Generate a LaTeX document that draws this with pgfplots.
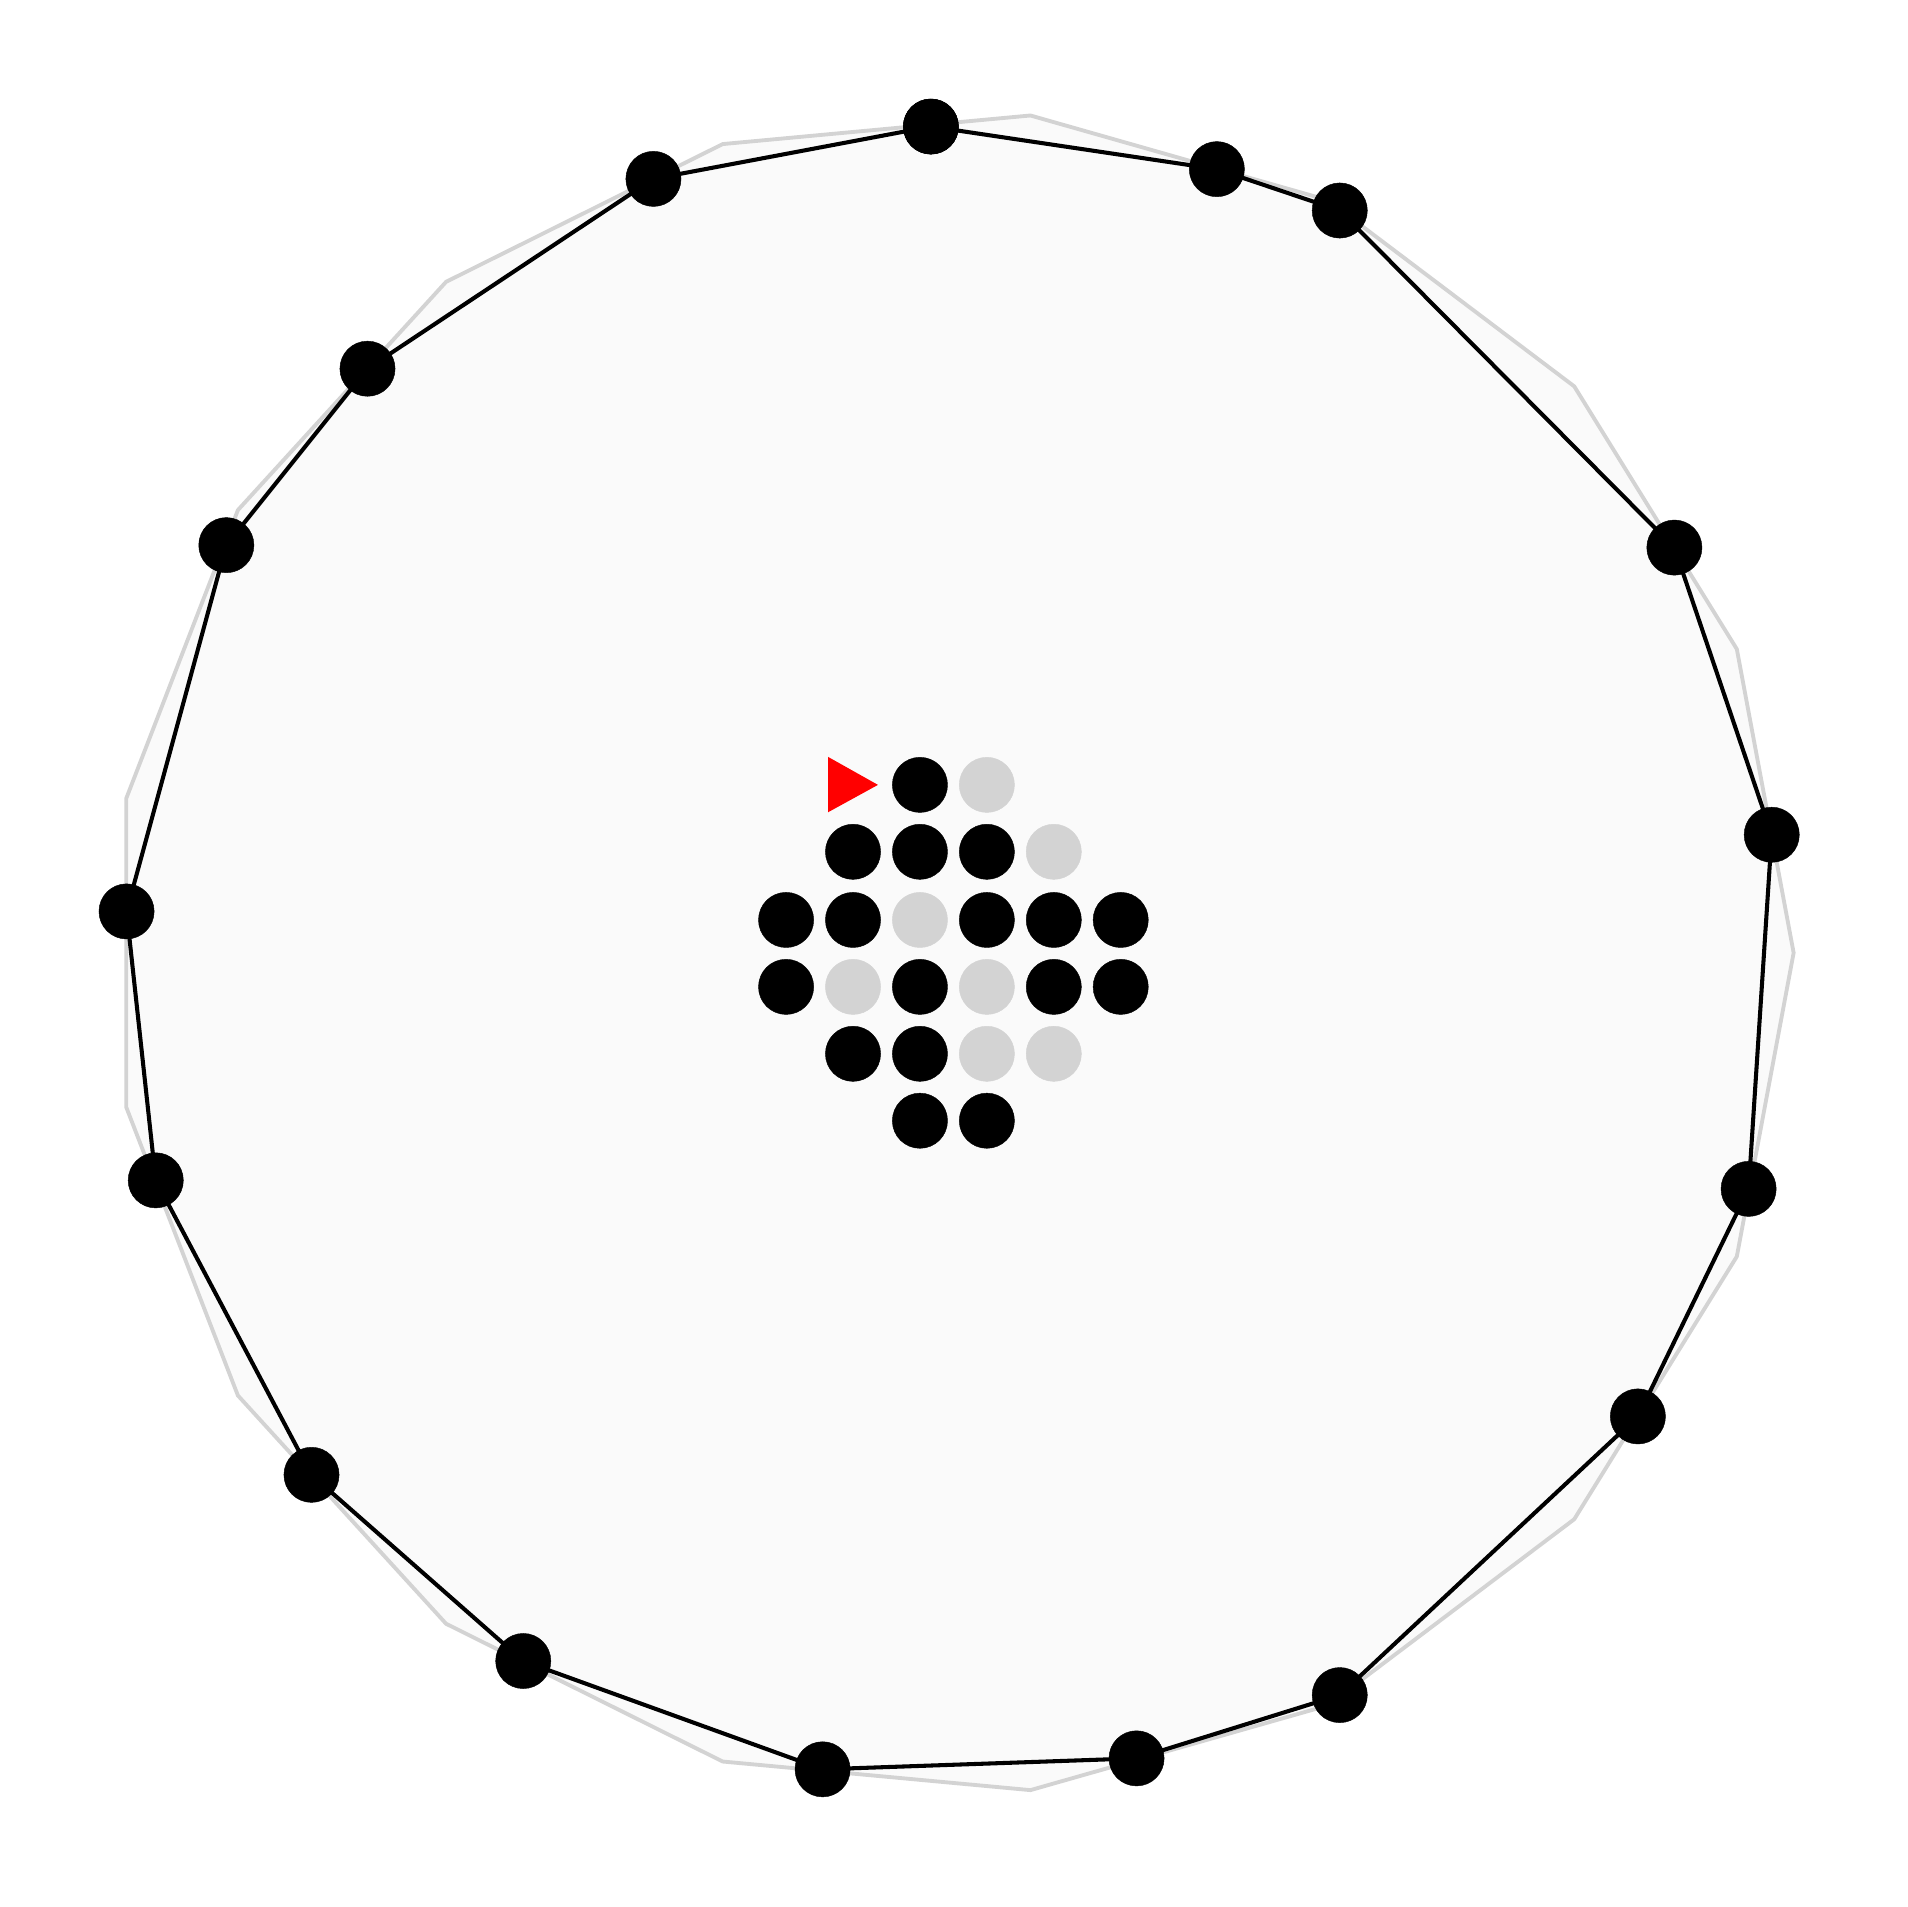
\documentclass[border=0pt]{standalone}
\usepackage{pgfplots}
\pgfplotsset{compat=1.18}
\definecolor{polyfill}{HTML}{FAFAFA}
\definecolor{lgray}{HTML}{D3D3D3}
\begin{document}
\begin{tikzpicture}
\begin{axis}[
  scale only axis, width=15.68cm, height=15.67cm,
  xmin=0, xmax=1568, ymin=0, ymax=1567, y dir=reverse,
  hide axis, clip=false]
\path (axis cs:0,0) rectangle (axis cs:1568,1567);
% gray reference polygon
\addplot[draw=lgray, line width=0.9pt, fill=polyfill] coordinates {
(1474,783) (1427.3,533.4) (1293.7,317.5) (1091.0,164.4) (846.8,94.9)
(593.9,118.4) (366.6,231.6) (195.5,419.2) (103.8,656.0) (103.8,910.0)
(195.5,1146.8) (366.6,1334.4) (593.9,1447.6) (846.8,1471.1) (1091.0,1401.6)
(1293.7,1248.5) (1427.3,1032.6)} -- cycle;
% black tour
\addplot[color=black, line width=0.95pt, mark=*, mark size=6.45pt, mark options={line width=0.1pt}] coordinates {
(765,104) (1000,139) (1101,173) (1376,450) (1456,686) (1437,977)
(1346,1164) (1101,1393) (934,1445) (676,1454) (430,1365) (256,1212)
(128,970) (104,749) (186,448) (302,303) (537,147) (765,104)};
% grid dots black
\addplot[color=black, only marks, mark=*, mark size=6.45pt, mark options={line width=0.1pt}] coordinates {
(756,645)
(701,700) (756,700) (811,700)
(646,756) (701,756) (811,756) (866,756) (921,756)
(646,811) (756,811) (866,811) (921,811)
(701,866) (756,866)
(756,921) (811,921)};
% grid dots gray
\addplot[color=lgray, only marks, mark=*, mark size=6.45pt, mark options={line width=0.1pt}] coordinates {
(811,645) (866,700) (756,756) (701,811) (811,811) (811,866) (866,866)};
% red triangle
\addplot[draw=none, fill=red] coordinates {(680.5,622) (721.5,645) (680.5,667.5)} -- cycle;
\end{axis}
\end{tikzpicture}
\end{document}
